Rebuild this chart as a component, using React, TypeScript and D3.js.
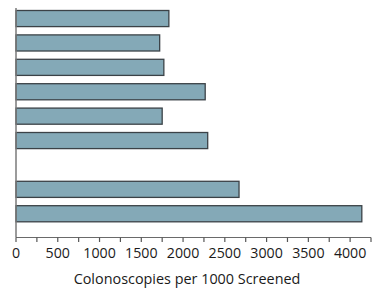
import React from "react";
import * as d3 from "d3";

const categories = ["A", "B", "C", "D", "E", "F", "gap", "G", "H"];
const values: (number | null)[] = [1830, 1720, 1770, 2265, 1750, 2295, null, 2670, 4140];
const tickValues = [0, 500, 1000, 1500, 2000, 2500, 3000, 3500, 4000];
const minorTicks = d3.range(0, 4251, 250);
const xTitle = "Colonoscopies per 1000 Screened";

const W = 376;
const H = 289;

export default function App() {
  const x = d3.scaleLinear().domain([0, 4250]).range([16, 371]);
  const y = d3.scaleBand<string>().domain(categories).range([1.7, 229.6]).paddingInner(0.34).paddingOuter(0.34);
  const axisY = 237.5;
  const font = "'Open Sans', sans-serif";
  return (
    <svg width={W} height={H} style={{ position: "absolute", left: 0, top: 0, background: "#fff" }}>
      {categories.map((c, i) => {
        const v = values[i];
        if (v == null) return null;
        return (
          <rect
            key={c}
            x={x(0)}
            y={y(c)! + 0.5}
            width={x(v) - x(0)}
            height={y.bandwidth()}
            fill="#84a9b7"
            stroke="#3b4247"
            strokeWidth={1.3}
          />
        );
      })}
      <line x1={x(0)} x2={x(0)} y1={8} y2={axisY} stroke="#7a7a7a" strokeWidth={1.5} />
      <line x1={x(0)} x2={x(4250)} y1={axisY} y2={axisY} stroke="#6a6a6a" strokeWidth={1.2} />
      {minorTicks.map((t) => (
        <line key={t} x1={x(t)} x2={x(t)} y1={axisY} y2={axisY + 4.5} stroke="#555" strokeWidth={1.2} />
      ))}
      {tickValues.map((t) => (
        <text key={t} x={x(t)} y={258} textAnchor="middle" fontFamily={font} fontSize={14.2} fill="#1a1a1a">
          {t}
        </text>
      ))}
      <text x={187} y={284} textAnchor="middle" fontFamily={font} fontSize={14.4} fill="#1a1a1a">
        {xTitle}
      </text>
    </svg>
  );
}
